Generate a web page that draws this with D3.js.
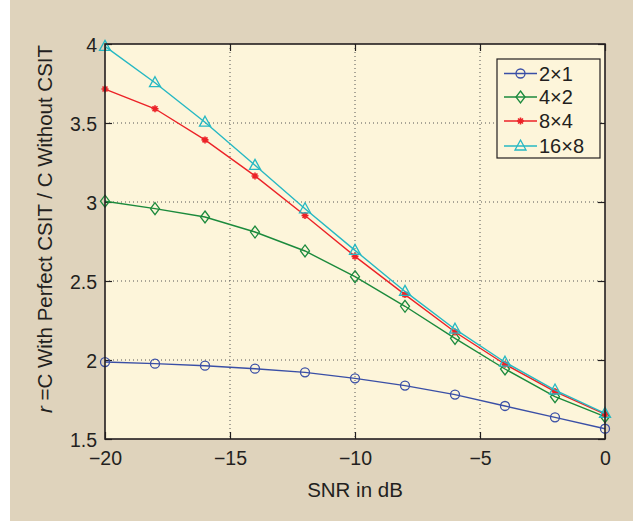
<!DOCTYPE html>
<html><head><meta charset="utf-8">
<script src="https://cdn.jsdelivr.net/npm/d3@7"></script>
<style>
html,body{margin:0;padding:0;background:#fff;}
text{font-family:"Liberation Sans",Arial,Helvetica,sans-serif;fill:#231f20;}
</style></head>
<body>
<script>
const snr = [-20,-18,-16,-14,-12,-10,-8,-6,-4,-2,0];
const s2x1  = [1.987,1.977,1.964,1.945,1.922,1.884,1.838,1.781,1.709,1.637,1.565];
const s4x2  = [3.005,2.958,2.905,2.81,2.69,2.527,2.34,2.137,1.943,1.768,1.641];
const s8x4  = [3.715,3.59,3.393,3.165,2.915,2.656,2.414,2.177,1.973,1.80,1.657];
const s16x8 = [3.985,3.755,3.505,3.232,2.957,2.694,2.434,2.195,1.986,1.81,1.662];
const seriesNames = ["2\u00d71","4\u00d72","8\u00d74","16\u00d78"];
const seriesColors = ["#3a4fa6","#1b8a3c","#ec2227","#26b8c3"];
const seriesMarkers = ["circle","diamond","star","triangle"];
const xTicks = [-20,-15,-10,-5,0];
const yTicks = [1.5,2,2.5,3,3.5,4];

const W=633,H=521;
const svg=d3.select("body").append("svg").attr("width",W).attr("height",H);
svg.append("rect").attr("x",10).attr("y",0).attr("width",W-10).attr("height",H).attr("fill","#dfd3bc");

const L=105,R=605,T=44,B=439;
const x=d3.scaleLinear().domain([-20,0]).range([L,R]);
const y=d3.scaleLinear().domain([1.5,4]).range([B,T]);

svg.append("rect").attr("x",L).attr("y",T).attr("width",R-L).attr("height",B-T).attr("fill","#fdf5da");

// grid
const grid=svg.append("g").attr("stroke","#555").attr("stroke-width",1).attr("stroke-dasharray","1,3");
xTicks.slice(1,-1).forEach(v=>grid.append("line").attr("x1",x(v)).attr("x2",x(v)).attr("y1",T).attr("y2",B));
yTicks.slice(1,-1).forEach(v=>grid.append("line").attr("x1",L).attr("x2",R).attr("y1",y(v)).attr("y2",y(v)));

// axes with inward ticks
const fmt=d=>(d<0?"\u2212"+Math.abs(d):String(d));
const xa=svg.append("g").attr("transform",`translate(0,${B})`).call(d3.axisBottom(x).tickValues(xTicks).tickSize(-7).tickPadding(12).tickFormat(fmt));
const xt=svg.append("g").attr("transform",`translate(0,${T})`).call(d3.axisTop(x).tickValues(xTicks).tickSize(-7).tickFormat(""));
const ya=svg.append("g").attr("transform",`translate(${L},0)`).call(d3.axisLeft(y).tickValues(yTicks).tickSize(-7).tickPadding(8).tickFormat(d=>String(d)));
const yr=svg.append("g").attr("transform",`translate(${R},0)`).call(d3.axisRight(y).tickValues(yTicks).tickSize(-7).tickFormat(""));
[xa,xt,ya,yr].forEach(g=>{g.select(".domain").remove();g.selectAll("line").attr("stroke","#231f20").attr("stroke-width",1.2);g.selectAll("text").attr("font-size",19.5).attr("fill","#231f20").attr("font-family","Liberation Sans, Arial, sans-serif");});
xa.selectAll("text").attr("dy","0.72em");
ya.selectAll("text").attr("dy","0.36em");

// series
const all=[s2x1,s4x2,s8x4,s16x8];
const line=d3.line().x((d,i)=>x(snr[i])).y(d=>y(d));
function marker(g,type,cx,cy,color){
  if(type==="circle") g.append("circle").attr("cx",cx).attr("cy",cy).attr("r",4.5).attr("fill","none").attr("stroke",color).attr("stroke-width",1.3);
  else if(type==="diamond") g.append("path").attr("d",`M${cx},${cy-6}L${cx+4.5},${cy}L${cx},${cy+6}L${cx-4.5},${cy}Z`).attr("fill","none").attr("stroke",color).attr("stroke-width",1.3);
  else if(type==="star"){const p=d3.path();for(let k=0;k<4;k++){const a=k*Math.PI/4;p.moveTo(cx-3.5*Math.cos(a),cy-3.5*Math.sin(a));p.lineTo(cx+3.5*Math.cos(a),cy+3.5*Math.sin(a));}
    g.append("path").attr("d",p.toString()).attr("stroke",color).attr("stroke-width",1.6);}
  else if(type==="triangle") g.append("path").attr("d",`M${cx},${cy-6}L${cx+5.5},${cy+4}L${cx-5.5},${cy+4}Z`).attr("fill","none").attr("stroke",color).attr("stroke-width",1.3);
}
all.forEach((s,k)=>{
  const g=svg.append("g");
  g.append("path").datum(s).attr("d",line).attr("fill","none").attr("stroke",seriesColors[k]).attr("stroke-width",1.4);
  s.forEach((v,i)=>marker(g,seriesMarkers[k],x(snr[i]),y(v),seriesColors[k]));
});

// frame
svg.append("rect").attr("x",L).attr("y",T).attr("width",R-L).attr("height",B-T).attr("fill","none").attr("stroke","#231f20").attr("stroke-width",1.6);

// legend
const lg=svg.append("g");
lg.append("rect").attr("x",497).attr("y",59).attr("width",103).attr("height",99).attr("fill","#fdf5da").attr("stroke","#231f20").attr("stroke-width",1.2);
const ly=[73.5,97,121,146];
seriesNames.forEach((n,k)=>{
  lg.append("line").attr("x1",504).attr("x2",537).attr("y1",ly[k]).attr("y2",ly[k]).attr("stroke",seriesColors[k]).attr("stroke-width",1.4);
  marker(lg,seriesMarkers[k],520.5,ly[k],seriesColors[k]);
  lg.append("text").attr("x",539).attr("y",ly[k]).attr("dy","0.36em").attr("font-size",20).text(n);
});

// axis titles
svg.append("text").attr("x",355).attr("y",497).attr("text-anchor","middle").attr("font-size",20.5).text("SNR in dB");
const yt=svg.append("text").attr("transform",`translate(52,229) rotate(-90)`).attr("text-anchor","middle").attr("font-size",20.5);
yt.append("tspan").attr("font-style","italic").text("r");
yt.append("tspan").text(" =C With Perfect CSIT / C Without CSIT");
</script>
</body></html>
